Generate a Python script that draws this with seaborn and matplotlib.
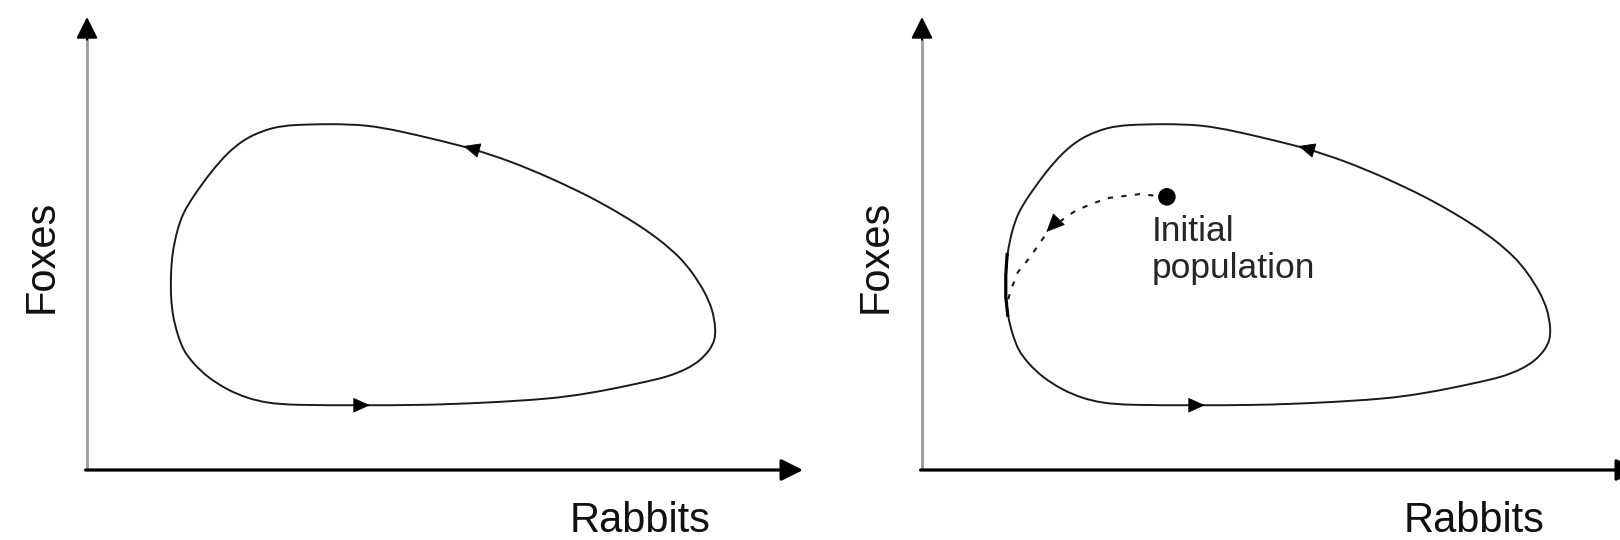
import numpy as np
import matplotlib
matplotlib.use("Agg")
import matplotlib.pyplot as plt
from matplotlib.path import Path
from matplotlib.patches import PathPatch
import pandas as pd
import seaborn as sns

# Closed predator-prey cycle (rabbits, foxes), traced counter-clockwise
cycle_rabbits = [28.8, 38.5, 46.5, 55.3, 64.7, 69.6, 74.0, 77.2, 81.0, 83.8,
                 85.6, 87.0, 87.7, 87.8, 87.4, 86.3, 84.6, 82.8, 80.0, 77.2,
                 74.0, 70.3, 64.7, 59.1, 53.5, 48.3, 43.7, 39.1, 33.9, 28.8,
                 26.0, 22.3, 19.6, 17.2, 14.8, 13.4, 12.6, 11.9, 11.7, 11.7,
                 12.0, 12.6, 13.4, 14.8, 16.8, 19.6, 22.3, 25.1]
cycle_foxes = [14.3, 14.3, 14.3, 14.8, 15.7, 16.8, 18.1, 19.2, 20.5, 22.3,
               24.1, 26.5, 28.7, 31.3, 35.3, 39.3, 43.5, 47.0, 50.8, 53.9,
               57.0, 60.3, 64.5, 68.2, 71.1, 73.1, 74.8, 76.2, 76.4, 76.2,
               75.7, 73.5, 70.0, 65.6, 60.3, 56.7, 53.0, 47.9, 43.0, 38.2,
               33.8, 30.2, 26.5, 23.6, 20.5, 17.7, 15.9, 14.8]
# indices of the cycle points that carry a direction arrow
cycle_arrow_at = [1, 24]
# stretch of the cycle where the transient joins it
join_span = (37, 41)

# Transient path from the initial population onto the cycle
transient_rabbits = [34.2, 30.4, 25.8, 21.6, 17.9, 15.1, 13.4, 12.4, 11.9]
transient_foxes = [60.3, 60.9, 60.0, 57.4, 53.4, 47.0, 43.7, 39.7, 36.9]
transient_arrow_at = 4

initial_rabbits = [34.2]
initial_foxes = [60.3]

x_label = "Rabbits"
y_label = "Foxes"
note = "Initial\npopulation"

sns.set_theme(style="white")
plt.rcParams["font.family"] = ["Liberation Sans", "DejaVu Sans"]

W, H = 1620, 540
fig = plt.figure(figsize=(W / 100, H / 100), dpi=100)
fig.patch.set_facecolor("white")

INK = "#1a1a1a"


def closed_bspline_path(xs, ys):
    """Closed cubic B-spline over the given points, as Bezier segments."""
    p = np.column_stack([xs, ys])
    n = len(p)
    verts, codes = [], []
    for i in range(n):
        a, b, c, d = p[i - 1], p[i], p[(i + 1) % n], p[(i + 2) % n]
        b0 = (a + 4 * b + c) / 6.0
        b1 = (2 * b + c) / 3.0
        b2 = (b + 2 * c) / 3.0
        b3 = (b + 4 * c + d) / 6.0
        if i == 0:
            verts.append(b0)
            codes.append(Path.MOVETO)
        verts += [b1, b2, b3]
        codes += [Path.CURVE4] * 3
    return Path(verts, codes)


def head(ax, xs, ys, i, scale=18):
    prev = np.array([xs[i - 1], ys[i - 1]])
    nxt = np.array([xs[(i + 1) % len(xs)], ys[(i + 1) % len(xs)]])
    cur = np.array([xs[i], ys[i]])
    d = (nxt - prev)
    d = d / np.hypot(*d)
    ax.annotate("", xy=cur + d * 1.0, xytext=cur - d * 1.0,
                arrowprops=dict(arrowstyle="-|>,head_length=0.6,head_width=0.27",
                                color="black", lw=0.6, shrinkA=0, shrinkB=0,
                                mutation_scale=scale),
                annotation_clip=False)


def panel(left_px, with_transient):
    ax = fig.add_axes([left_px / W, 70 / H, 716 / W, 453 / H])
    ax.set_xlim(0, 100)
    ax.set_ylim(0, 100)
    ax.set_axis_off()

    # axes drawn as arrows
    ax.plot([0, 0], [0, 0.97], transform=ax.transAxes, color="#9a9a9a",
            lw=2.0, solid_capstyle="butt", clip_on=False)
    ax.annotate("", xy=(0, 1.0), xytext=(0, 0.95), xycoords="axes fraction",
                arrowprops=dict(arrowstyle="-|>,head_length=0.6,head_width=0.3",
                                color="black", lw=1.5, shrinkA=0, shrinkB=0,
                                mutation_scale=22))
    ax.annotate("", xy=(1.0, 0), xytext=(-0.002, 0), xycoords="axes fraction",
                arrowprops=dict(arrowstyle="-|>,head_length=0.6,head_width=0.3",
                                color="black", lw=2.3, shrinkA=0, shrinkB=0,
                                mutation_scale=22),
                annotation_clip=False)

    # closed cycle
    ax.add_patch(PathPatch(closed_bspline_path(cycle_rabbits, cycle_foxes),
                           facecolor="none", edgecolor=INK, lw=1.4))
    for i in cycle_arrow_at:
        head(ax, cycle_rabbits, cycle_foxes, i)

    if with_transient:
        # the transient merges with the cycle: that stretch is drawn heavier
        a, b = join_span
        ax.plot(cycle_rabbits[a:b], cycle_foxes[a:b], color="black", lw=2.3,
                solid_capstyle="butt")
        df = pd.DataFrame({"rabbits": transient_rabbits, "foxes": transient_foxes})
        sns.lineplot(data=df, x="rabbits", y="foxes", sort=False, ax=ax,
                     color=INK, lw=1.5, linestyle=(0, (2.5, 4)))
        head(ax, transient_rabbits, transient_foxes, transient_arrow_at, scale=20)
        sns.scatterplot(x=initial_rabbits, y=initial_foxes, ax=ax, s=160,
                        color="black", edgecolor="none", zorder=5)
        ax.text(32.1, 56.3, note, fontsize=25.5, color="#262626",
                ha="left", va="top", linespacing=1.15)
        ax.set_xlim(0, 100)
        ax.set_ylim(0, 100)
        ax.set_axis_off()
    return ax


panel(87, False)
panel(922, True)

for cx_rab, cx_fox in [(640, 42), (1474, 876)]:
    fig.text(cx_rab / W, 1 - 532 / H, x_label, fontsize=30, color="#111111",
             ha="center", va="baseline")
    fig.text(cx_fox / W, 1 - 256 / H, y_label, fontsize=30, color="#111111",
             ha="center", va="center", rotation=90)

fig.savefig("out.png", dpi=100, facecolor="white")
